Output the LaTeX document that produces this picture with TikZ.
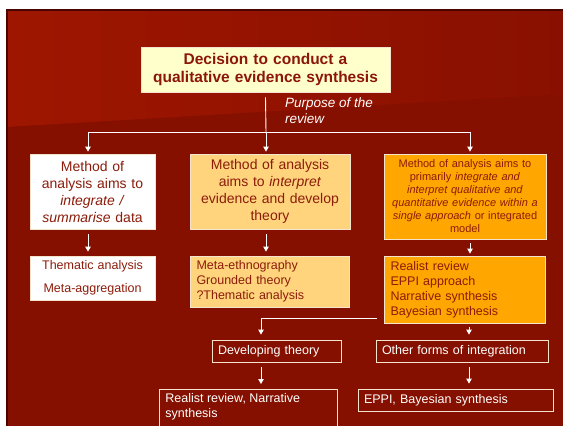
\documentclass[tikz,border=0pt]{standalone}
\usepackage{fontspec}
\setmainfont{Liberation Sans}
\usetikzlibrary{arrows.meta}
\definecolor{bgmain}{RGB}{134,16,0}
\definecolor{bglight}{RGB}{158,22,0}
\definecolor{bgdark}{RGB}{137,16,0}
\definecolor{edgecol}{RGB}{75,5,0}
\definecolor{titlefill}{RGB}{255,255,204}
\definecolor{titletext}{RGB}{140,22,10}
\definecolor{boxtext}{RGB}{140,28,10}
\definecolor{lightorange}{RGB}{255,212,125}
\definecolor{deeporange}{RGB}{255,166,0}
\definecolor{boxline}{RGB}{245,228,205}
\begin{document}
\begin{tikzpicture}[x=1pt,y=-1pt,
  box/.style={draw=boxline, line width=0.8pt, inner xsep=0pt, inner ysep=0pt, text=boxtext},
  lbox/.style={box, inner xsep=6pt, align=left},
  conn/.style={draw=white, line width=0.9pt},
  arr/.style={conn, -{Triangle[length=5pt,width=5.5pt]}},
  bigfont/.style={font=\fontsize{14}{17}\selectfont},
  midfont/.style={font=\fontsize{12.5}{15}\selectfont},
  smallfont/.style={font=\fontsize{11}{13}\selectfont}
]
\useasboundingbox (0,0) rectangle (563,426);
\clip (0,0) rectangle (563,426);
% background
\fill[bgmain] (6,9) rectangle (563,426);
\shade[left color=bglight, right color=bgdark] (6,9) -- (563,9) -- (563,94) -- (6,127) -- cycle;
\fill[edgecol] (6,9) rectangle (563,11);
\fill[edgecol] (6,9) rectangle (7.5,426);

% title
\node[box, fill=titlefill, text=titletext, text width=249pt, minimum height=45pt, align=center,
  font=\bfseries\fontsize{15.5}{18}\selectfont] (T) at (265.5,69.5)
  {Decision to conduct a\\qualitative evidence synthesis};
\node[text=white, font=\itshape\fontsize{13.5}{15.5}\selectfont, align=left, anchor=north west, inner sep=0pt]
  (P) at (285,98) {Purpose of the\\review};

% first row
\node[box, fill=white, text width=125pt, minimum height=75pt, align=center, bigfont] (L1) at (92.5,191.5)
  {Method of\\analysis aims to\\\textit{integrate /}\\\textit{summarise} data};
\node[box, fill=lightorange, text width=160pt, minimum height=75pt, align=center, bigfont] (M1) at (270,191.5)
  {Method of analysis\\aims to \textit{interpret}\\evidence and develop\\theory};
\node[box, fill=deeporange, text width=162pt, minimum height=85pt, align=center, smallfont] (R1) at (465,196.5)
  {Method of analysis aims to\\primarily \textit{integrate and}\\\textit{interpret qualitative and}\\\textit{quantitative evidence within a}\\\textit{single approach} or integrated\\model};

% second row
\node[box, fill=white, text width=125pt, minimum height=44pt, align=center, midfont] (L2) at (92.5,278)
  {Thematic analysis\\[8pt]Meta-aggregation};
\node[lbox, fill=lightorange, text width=147pt, minimum height=51pt, midfont] (M2) at (270,281.5)
  {Meta-ethnography\\Grounded theory\\?Thematic analysis};
\node[lbox, fill=deeporange, text width=149pt, minimum height=67pt, midfont] (R2) at (465,289.5)
  {Realist review\\EPPI approach\\Narrative synthesis\\Bayesian synthesis};

% third row
\node[lbox, text=white, text width=117pt, minimum height=22pt, midfont] (Dev) at (276.5,351)
  {Developing theory};
\node[lbox, text=white, text width=160pt, minimum height=22pt, midfont] (Other) at (462,351)
  {Other forms of integration};

% fourth row
\node[box, text=white, anchor=north west, inner xsep=6pt, inner ysep=4pt, midfont] (B1) at (159,389)
  {\parbox[t][42pt][t]{166pt}{\raggedright Realist review, Narrative\\synthesis}};
\node[lbox, text=white, text width=183pt, minimum height=22pt, midfont] (B2) at (455.5,400)
  {EPPI, Bayesian synthesis};

% connectors
\coordinate (J) at (266,132);
\coordinate (JL) at (88,132);
\coordinate (JR) at (470,132);
\draw[conn] ([yshift=-5pt]T.south) -- (J);
\draw[conn] (JL) -- (JR);
\draw[arr, shorten >=2pt] (JL) -- (JL |- L1.north);
\draw[arr, shorten >=2pt] (J) -- (J |- M1.north);
\draw[arr, shorten >=2pt] (JR) -- (JR |- R1.north);
\draw[arr, shorten <=5pt, shorten >=4pt] (JL |- L1.south) -- (JL |- L2.north);
\draw[arr, shorten <=5pt, shorten >=4pt] (J |- M1.south) -- (J |- M2.north);
\draw[arr, shorten <=4pt, shorten >=2pt] (JR |- R1.south) -- (JR |- R2.north);
\coordinate (RS) at (377,318);
\coordinate (DS) at (261,318);
\coordinate (OX) at (469,0);
\draw[conn] (RS) -- (DS);
\draw[arr, shorten >=5pt] (DS) -- (DS |- Dev.north);
\draw[arr, shorten <=4pt, shorten >=5pt] (OX |- R2.south) -- (OX |- Other.north);
\draw[arr, shorten <=5pt, shorten >=5pt] (DS |- Dev.south) -- (DS |- B1.north);
\draw[arr, shorten <=5pt, shorten >=5pt] (OX |- Other.south) -- (OX |- B2.north);
\end{tikzpicture}
\end{document}
